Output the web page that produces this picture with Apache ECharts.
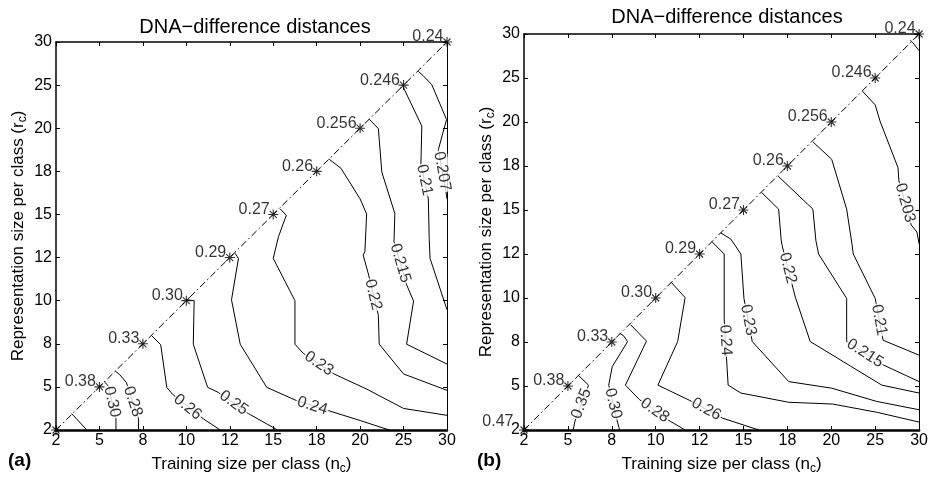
<!DOCTYPE html>
<html>
<head>
<meta charset="utf-8">
<script src="https://cdn.jsdelivr.net/npm/echarts@6/dist/echarts.min.js"></script>
<style>html,body{margin:0;padding:0;background:#fff}#c{width:931px;height:480px}</style>
</head>
<body>
<div id="c"></div>
<script>
// ---- tick labels (evenly spaced categories on both axes) ----
const xTicks = [2, 5, 8, 10, 12, 15, 18, 20, 25, 30];
const yTicks = [2, 5, 8, 10, 12, 15, 18, 20, 25, 30];

// ---- values at the diagonal (n_c = r_c) ----
const diagA = ['', '0.38', '0.33', '0.30', '0.29', '0.27', '0.26', '0.256', '0.246', '0.24'];
const diagB = ['0.47', '0.38', '0.33', '0.30', '0.29', '0.27', '0.26', '0.256', '0.246', '0.24'];

// ---- panel (a) contour lines, in tick-index units [x, y] ----
const a_unl  = [[0.36,0.38],[0.71,0]];
const a_030  = [[1.11,1.12],[1.20,1.03],[1.38,0.26],[1.38,0]];
const a_028  = [[1.36,1.37],[1.47,1.28],[1.62,1.10],[1.90,0.26],[1.90,0]];
const a_026  = [[2.20,2.19],[2.41,1.98],[2.55,0.99],[2.68,0.83],[3.39,0.26],[3.78,0]];
const a_025  = [[3.0,3.02],[3.18,3.0],[3.16,1.99],[3.49,0.99],[3.74,0.87],[4.43,0.38],[5.10,0]];
const a_024  = [[4.12,4.10],[4.20,3.98],[4.04,3.02],[4.24,1.99],[4.85,0.99],[5.54,0.68],[6.27,0.45],[7.0,0.22],[7.67,0]];
const a_023  = [[5.16,5.13],[5.30,4.98],[5.12,4.48],[5.0,3.98],[5.50,3.0],[5.50,1.99],[5.69,1.78],[6.40,1.30],[7.15,0.95],[8.0,0.50],[9.0,0.34]];
const a_022  = [[6.29,6.28],[6.56,6.07],[7.0,5.36],[7.15,5.01],[7.11,4.14],[7.07,4.06],[7.19,3.62],[7.42,2.66],[7.44,1.99],[8.0,1.30],[9.0,0.92]];
const a_0215 = [[7.21,7.21],[7.42,6.99],[7.50,5.98],[7.80,5.02],[7.78,4.37],[8.07,3.37],[8.23,2.99],[8.07,1.99],[9.0,1.53]];
const a_021  = [[7.99,7.96],[8.42,7.05],[8.40,6.17],[8.57,5.36],[8.59,4.44],[8.61,3.98],[9.0,2.79]];
const a_0207 = [[8.34,8.32],[8.45,8.22],[8.65,8.01],[8.99,7.2],[8.80,6.5],[8.98,5.5],[9.0,5.36]];
const linesA  = [a_unl, a_030, a_028, a_026, a_025, a_024, a_023, a_022, a_0215, a_021, a_0207];
const levelsA = ['', '0.30', '0.28', '0.26', '0.25', '0.24', '0.23', '0.22', '0.215', '0.21', '0.207'];
const labelAtA = [null, [1.29,0.65], [1.77,0.66], [3.03,0.53], [4.09,0.63], [5.9,0.56], [6.05,1.54], [7.3,3.14], [7.925,3.87], [8.48,5.8], [8.89,6.0]];

// ---- panel (b) contour lines ----
const b_unl  = [[8.80,8.86],[8.86,8.80],[9.0,8.62]];
const b_0203 = [[7.71,7.70],[8.0,7.39],[8.11,7.02],[8.52,5.96],[8.54,5.66],[8.82,4.66],[8.95,4.5],[9.0,4.23]];
const b_021  = [[6.58,6.55],[7.01,6.15],[7.35,5.02],[7.47,4.23],[7.50,4.0],[8.0,2.99],[8.18,2.04],[9.0,1.70]];
const b_0215 = [[5.79,5.77],[6.58,5.02],[6.65,4.3],[6.71,4.0],[7.35,2.99],[7.35,2.01],[8.18,1.48],[9.0,1.10]];
const b_022  = [[5.41,5.40],[5.80,5.02],[5.86,4.3],[5.88,4.19],[6.18,3.02],[6.52,2.01],[8.15,1.02],[9.0,0.84]];
const b_023  = [[4.48,4.48],[4.71,4.34],[4.94,4.0],[5.01,2.99],[5.20,2.01],[6.03,1.10],[7.01,0.95],[8.03,0.65],[9.0,0.46]];
const b_024  = [[4.28,4.28],[4.56,4.0],[4.56,2.53],[4.65,1.02],[4.94,0.84],[6.03,0.63],[7.03,0.59],[8.05,0.40],[9.0,0.18]];
const b_026  = [[3.35,3.36],[3.67,3.01],[3.50,2.01],[3.05,1.02],[3.78,0.67],[4.52,0.27],[5.35,0]];
const b_028  = [[2.43,2.39],[2.79,2.02],[2.31,1.02],[2.63,0.69],[3.33,0.2],[3.67,0]];
const b_030  = [[2.18,2.20],[2.27,2.14],[2.36,2.01],[2.01,1.44],[1.93,1.02],[2.13,0.18],[2.18,0]];
const b_035  = [[1.23,1.25],[1.47,1.02],[1.16,0.2],[1.12,0]];
const linesB  = [b_unl, b_0203, b_021, b_0215, b_022, b_023, b_024, b_026, b_028, b_030, b_035];
const levelsB = ['', '0.203', '0.21', '0.215', '0.22', '0.23', '0.24', '0.26', '0.28', '0.30', '0.35'];
const labelAtB = [null, [8.68,5.16], [8.09,2.5], [7.77,1.745], [6.01,3.68], [5.11,2.5], [4.59,2.04], [4.15,0.47], [2.98,0.445], [2.03,0.6], [1.31,0.6]];

const FONT = 'Liberation Sans, Arial, Helvetica, sans-serif';
const TITLE = 'DNA\u2212difference distances';

// angle of the line segment nearest to a label point (data aspect is 1:1 in both grids)
function segAngle(pts, p) {
  let best = 0, bd = Infinity;
  for (let i = 0; i < pts.length - 1; i++) {
    const [x1,y1] = pts[i], [x2,y2] = pts[i+1];
    const dx = x2-x1, dy = y2-y1, L = dx*dx+dy*dy;
    let t = L ? ((p[0]-x1)*dx + (p[1]-y1)*dy) / L : 0;
    t = Math.max(0, Math.min(1, t));
    const qx = x1+t*dx, qy = y1+t*dy, d = (qx-p[0])**2 + (qy-p[1])**2;
    if (d < bd) { bd = d; best = Math.atan2(dy, dx) * 180 / Math.PI; }
  }
  if (best > 90) best -= 180;
  if (best <= -90) best += 180;
  return best;
}

const series = [];
function addPanel(lines, levels, labelAt, diag, xi, yi) {
  lines.forEach(pts => series.push({
    type: 'line', xAxisIndex: xi, yAxisIndex: yi, data: pts, symbol: 'none', showSymbol: false,
    lineStyle: { color: '#000', width: 1 }, silent: true, z: 2, animation: false
  }));
  const labData = [];
  levels.forEach((lv, k) => {
    if (!lv || !labelAt[k]) return;
    labData.push({ value: labelAt[k], label: { formatter: lv, rotate: segAngle(lines[k], labelAt[k]) } });
  });
  series.push({
    type: 'scatter', xAxisIndex: xi, yAxisIndex: yi, symbolSize: 0, data: labData, z: 5, silent: true, animation: false,
    label: { show: true, position: 'inside', color: '#000', fontSize: 16, fontFamily: FONT, backgroundColor: '#fff', padding: [0, 1] }
  });
  const dpts = yTicks.map((_, i) => [i, i]);
  series.push({
    type: 'line', xAxisIndex: xi, yAxisIndex: yi, data: dpts, symbol: 'none', showSymbol: false, silent: true, animation: false, z: 3,
    lineStyle: { color: '#000', width: 1, type: [7, 3, 1.5, 3] }
  });
  series.push({
    type: 'scatter', xAxisIndex: xi, yAxisIndex: yi, z: 6, silent: true, animation: false,
    symbol: 'path://M5,0L5,10M0,5L10,5M1.5,1.5L8.5,8.5M8.5,1.5L1.5,8.5', symbolSize: 10,
    itemStyle: { color: 'transparent', borderColor: '#000', borderWidth: 1.1 },
    data: dpts.map((p, i) => ({
      value: p,
      label: { show: !!diag[i], formatter: diag[i], position: 'left', distance: -2,
               offset: i === 0 ? [-7, -8] : [0, -5], color: '#000', fontSize: 16, fontFamily: FONT }
    }))
  });
}
addPanel(linesA, levelsA, labelAtA, diagA, 0, 0);
addPanel(linesB, levelsB, labelAtB, diagB, 2, 2);

function xAx(grid, pos, name) {
  const main = pos === 'bottom';
  return {
    gridIndex: grid, type: 'value', position: pos, min: 0, max: 9, interval: 1,
    axisLine: { show: true, onZero: false, lineStyle: { color: '#000', width: main ? 2.5 : 1.5 } },
    axisTick: { show: true, inside: true, length: 4, lineStyle: { color: '#000', width: 1 } },
    axisLabel: { show: main, formatter: v => String(xTicks[Math.round(v)]), color: '#000', fontSize: 16, fontFamily: FONT, margin: 3 },
    splitLine: { show: false },
    name: main ? name : '', nameLocation: 'middle', nameGap: 23,
    nameTextStyle: { color: '#000', fontSize: 17, fontFamily: FONT,
      rich: { s: { fontSize: 12, fontFamily: FONT, color: '#000', padding: [10, 0, 0, 0] } } }
  };
}
function yAx(grid, pos, name) {
  const main = pos === 'left';
  return {
    gridIndex: grid, type: 'value', position: pos, min: 0, max: 9, interval: 1,
    axisLine: { show: true, onZero: false, lineStyle: { color: '#000', width: main ? 1.5 : 1 } },
    axisTick: { show: true, inside: true, length: 4, lineStyle: { color: '#000', width: 1 } },
    axisLabel: { show: main, formatter: v => String(yTicks[Math.round(v)]), color: '#000', fontSize: 16, fontFamily: FONT, margin: 4 },
    splitLine: { show: false },
    name: main ? name : '', nameLocation: 'middle', nameGap: 27,
    nameTextStyle: { color: '#000', fontSize: 17, fontFamily: FONT,
      rich: { s: { fontSize: 12, fontFamily: FONT, color: '#000', padding: [10, 0, 0, 0] } } }
  };
}
const xName = 'Training size per class (n{s|c})';
const yName = 'Representation size per class (r{s|c})';

const option = {
  animation: false,
  backgroundColor: '#fff',
  grid: [
    { left: 56, top: 42, width: 391, height: 391 },
    { left: 524, top: 34, width: 397, height: 398 }
  ],
  title: [
    { text: TITLE, left: 250, top: 12, textAlign: 'center', textStyle: { fontSize: 20, fontWeight: 'normal', color: '#000', fontFamily: FONT } },
    { text: TITLE, left: 722, top: 2, textAlign: 'center', textStyle: { fontSize: 20, fontWeight: 'normal', color: '#000', fontFamily: FONT } }
  ],
  xAxis: [xAx(0, 'bottom', xName), xAx(0, 'top'), xAx(1, 'bottom', xName), xAx(1, 'top')],
  yAxis: [yAx(0, 'left', yName), yAx(0, 'right'), yAx(1, 'left', yName), yAx(1, 'right')],
  graphic: [
    { type: 'text', left: 8, top: 451, style: { text: '(a)', font: 'bold 19px ' + FONT, fill: '#000' } },
    { type: 'text', left: 477, top: 451, style: { text: '(b)', font: 'bold 19px ' + FONT, fill: '#000' } }
  ],
  series: series
};
const chart = echarts.init(document.getElementById('c'), null, { renderer: 'canvas' });
chart.setOption(option);
</script>
</body>
</html>
